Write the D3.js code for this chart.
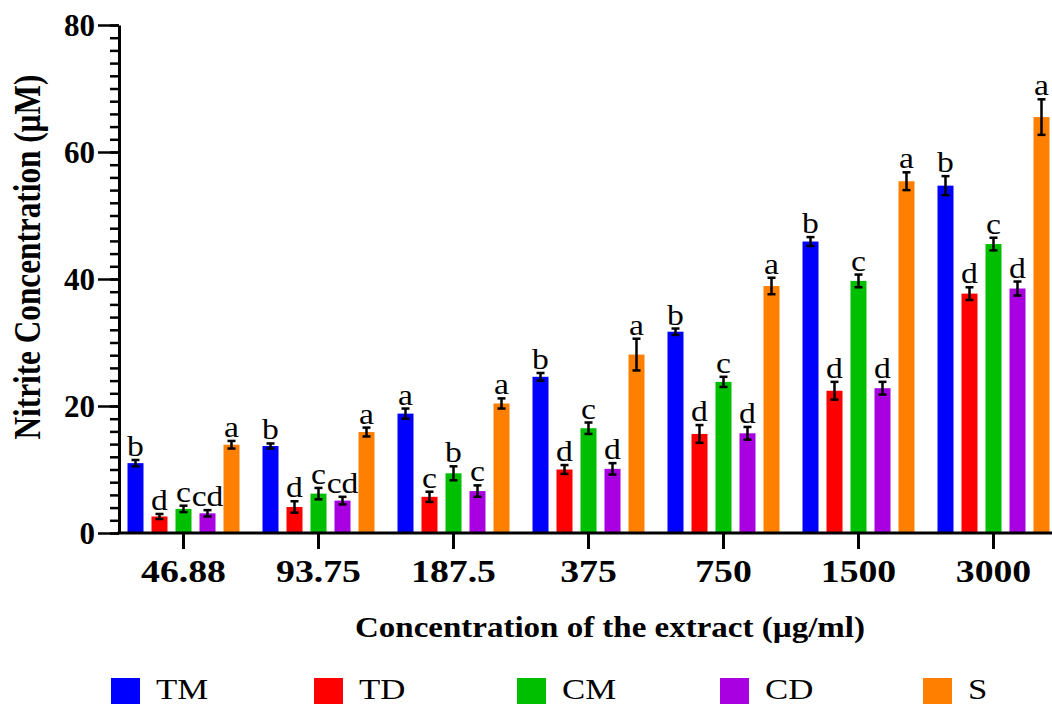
<!DOCTYPE html>
<html>
<head>
<meta charset="utf-8">
<script src="https://cdn.jsdelivr.net/npm/d3@7"></script>
<style>
  body { margin: 0; background: #fff; }
  svg { display: block; }
  svg text { font-family: "Liberation Serif", "Times New Roman", Times, serif; }
</style>
</head>
<body>
<div class="svg-content"></div>
<script>
const categories = ["46.88", "93.75", "187.5", "375", "750", "1500", "3000"];
const seriesNames = ["TM", "TD", "CM", "CD", "S"];
const seriesColors = ["#0000ff", "#ff0000", "#00bf00", "#a800e0", "#ff8000"];

const tmValues = [11.0, 13.7, 18.8, 24.6, 31.7, 45.9, 54.7];
const tdValues = [2.6, 4.1, 5.7, 10.0, 15.6, 22.4, 37.7];
const cmValues = [3.8, 6.2, 9.4, 16.5, 23.8, 39.7, 45.5];
const cdValues = [3.1, 5.1, 6.6, 10.1, 15.7, 22.8, 38.5];
const sValues = [13.9, 15.9, 20.4, 28.1, 38.9, 55.4, 65.5];

const tmErrors = [0.5, 0.4, 0.8, 0.6, 0.5, 0.7, 1.5];
const tdErrors = [0.4, 0.9, 0.8, 0.7, 1.4, 1.4, 1.0];
const cmErrors = [0.5, 0.9, 1.1, 0.9, 0.8, 1.0, 1.0];
const cdErrors = [0.5, 0.6, 0.9, 0.9, 1.0, 1.0, 1.1];
const sErrors = [0.6, 0.7, 0.8, 2.5, 1.3, 1.4, 2.8];

const tmLetters = ["b", "b", "a", "b", "b", "b", "b"];
const tdLetters = ["d", "d", "c", "d", "d", "d", "d"];
const cmLetters = ["c", "c", "b", "c", "c", "c", "c"];
const cdLetters = ["cd", "cd", "c", "d", "d", "d", "d"];
const sLetters = ["a", "a", "a", "a", "a", "a", "a"];

const yTicks = [0, 20, 40, 60, 80];

const allValues = [tmValues, tdValues, cmValues, cdValues, sValues];
const allErrors = [tmErrors, tdErrors, cmErrors, cdErrors, sErrors];
const allLetters = [tmLetters, tdLetters, cmLetters, cdLetters, sLetters];

// flatten into one row per bar
let dataset = [];
categories.forEach((cat, i) => {
  seriesNames.forEach((name, j) => {
    dataset.push({
      category: cat,
      series: name,
      value: allValues[j][i],
      error: allErrors[j][i],
      letter: allLetters[j][i],
      color: seriesColors[j]
    });
  });
});

const svgWidth = 1052;
const svgHeight = 704;
const serif = "Liberation Serif, Times New Roman, serif";
const stretch = 1.16; // the original text is a little wider than plain Times

let svg = d3.select(".svg-content")
            .append("svg")
            .attr("width", svgWidth)
            .attr("height", svgHeight);

const xScale = d3.scaleBand()
                 .domain(categories)
                 .range([116, 1061]);

const innerScale = d3.scaleBand()
                     .domain(seriesNames)
                     .range([-60, 60])
                     .paddingInner(1 / 3)
                     .paddingOuter(1 / 6);

const yScale = d3.scaleLinear()
                 .domain([0, 80])
                 .range([533, 25]);

// bars
svg.selectAll("rect.bar")
   .data(dataset)
   .enter()
   .append("rect")
   .attr("class", "bar")
   .attr("x", d => xScale(d.category) + xScale.bandwidth() / 2 + innerScale(d.series))
   .attr("width", innerScale.bandwidth())
   .attr("y", d => yScale(d.value))
   .attr("height", d => yScale(0) - yScale(d.value))
   .attr("fill", d => d.color);

// error bars
const barCenter = d => xScale(d.category) + xScale.bandwidth() / 2 + innerScale(d.series) + innerScale.bandwidth() / 2;

let errGroup = svg.append("g")
                  .attr("stroke", "#000")
                  .attr("stroke-width", 2.5);

errGroup.selectAll("line.err")
        .data(dataset)
        .enter()
        .append("line")
        .attr("x1", barCenter)
        .attr("x2", barCenter)
        .attr("y1", d => yScale(d.value - d.error))
        .attr("y2", d => yScale(d.value + d.error));

errGroup.selectAll("line.capTop")
        .data(dataset)
        .enter()
        .append("line")
        .attr("x1", d => barCenter(d) - 4)
        .attr("x2", d => barCenter(d) + 4)
        .attr("y1", d => yScale(d.value + d.error))
        .attr("y2", d => yScale(d.value + d.error));

errGroup.selectAll("line.capBottom")
        .data(dataset)
        .enter()
        .append("line")
        .attr("x1", d => barCenter(d) - 4)
        .attr("x2", d => barCenter(d) + 4)
        .attr("y1", d => yScale(d.value - d.error))
        .attr("y2", d => yScale(d.value - d.error));

// significance letters
svg.selectAll("text.letter")
   .data(dataset)
   .enter()
   .append("text")
   .attr("class", "letter")
   .attr("transform", d => "translate(" + barCenter(d) + "," + (yScale(d.value + d.error) - 4) + ") scale(" + stretch + ",1)")
   .attr("text-anchor", "middle")
   .attr("font-family", serif)
   .attr("font-size", 29)
   .text(d => d.letter);

// y axis: minor ticks then major ticks
svg.append("g")
   .attr("transform", "translate(119,0)")
   .call(d3.axisLeft(yScale).tickValues(d3.range(0, 81, 2)).tickSize(9).tickFormat(""))
   .call(g => g.select(".domain").remove())
   .call(g => g.selectAll("line").attr("stroke-width", 2.5));

let yAxisG = svg.append("g")
                .attr("id", "y-axis")
                .attr("transform", "translate(119,0)")
                .call(d3.axisLeft(yScale).tickValues(yTicks).tickSize(21).tickSizeOuter(0));

yAxisG.attr("font-family", serif)
      .attr("font-size", 31)
      .attr("font-weight", "bold");
yAxisG.select(".domain").attr("stroke-width", 3);
yAxisG.selectAll(".tick line").attr("stroke-width", 2.5);
yAxisG.selectAll(".tick text")
      .attr("x", -24)
      .attr("dy", "0.34em")
      .attr("fill", "#000");

// x axis
let xAxisG = svg.append("g")
                .attr("id", "x-axis")
                .attr("transform", "translate(0,533)")
                .call(d3.axisBottom(xScale).tickSize(16).tickSizeOuter(0).tickPadding(10));

xAxisG.attr("font-family", serif)
      .attr("font-size", 32)
      .attr("font-weight", "bold");
xAxisG.select(".domain").attr("d", "M117.5,0H1052").attr("stroke-width", 3);
xAxisG.selectAll(".tick line").attr("stroke-width", 3);
xAxisG.selectAll(".tick text")
      .attr("y", 49)
      .attr("dy", 0)
      .attr("transform", "scale(1.18,1)")
      .attr("fill", "#000");

// axis titles
svg.append("text")
   .attr("transform", "translate(40,257) rotate(-90)")
   .attr("text-anchor", "middle")
   .attr("textLength", 365)
   .attr("lengthAdjust", "spacingAndGlyphs")
   .attr("font-family", serif)
   .attr("font-weight", "bold")
   .attr("font-size", 37)
   .text("Nitrite Concentration (\u00b5M)");

svg.append("text")
   .attr("x", 610)
   .attr("y", 637)
   .attr("text-anchor", "middle")
   .attr("textLength", 510)
   .attr("lengthAdjust", "spacingAndGlyphs")
   .attr("font-family", serif)
   .attr("font-weight", "bold")
   .attr("font-size", 29)
   .text("Concentration of the extract (\u00b5g/ml)");

// legend
let legend = svg.selectAll("g.legend")
                .data(seriesNames)
                .enter()
                .append("g")
                .attr("class", "legend")
                .attr("transform", (d, i) => "translate(" + (111 + i * 203) + ",0)");

legend.append("rect")
      .attr("x", 0)
      .attr("y", 678)
      .attr("width", 29)
      .attr("height", 30)
      .attr("fill", (d, i) => seriesColors[i]);

legend.append("text")
      .attr("transform", "translate(45,699) scale(" + stretch + ",1)")
      .attr("font-family", serif)
      .attr("font-size", 30)
      .text(d => d);
</script>
</body>
</html>
